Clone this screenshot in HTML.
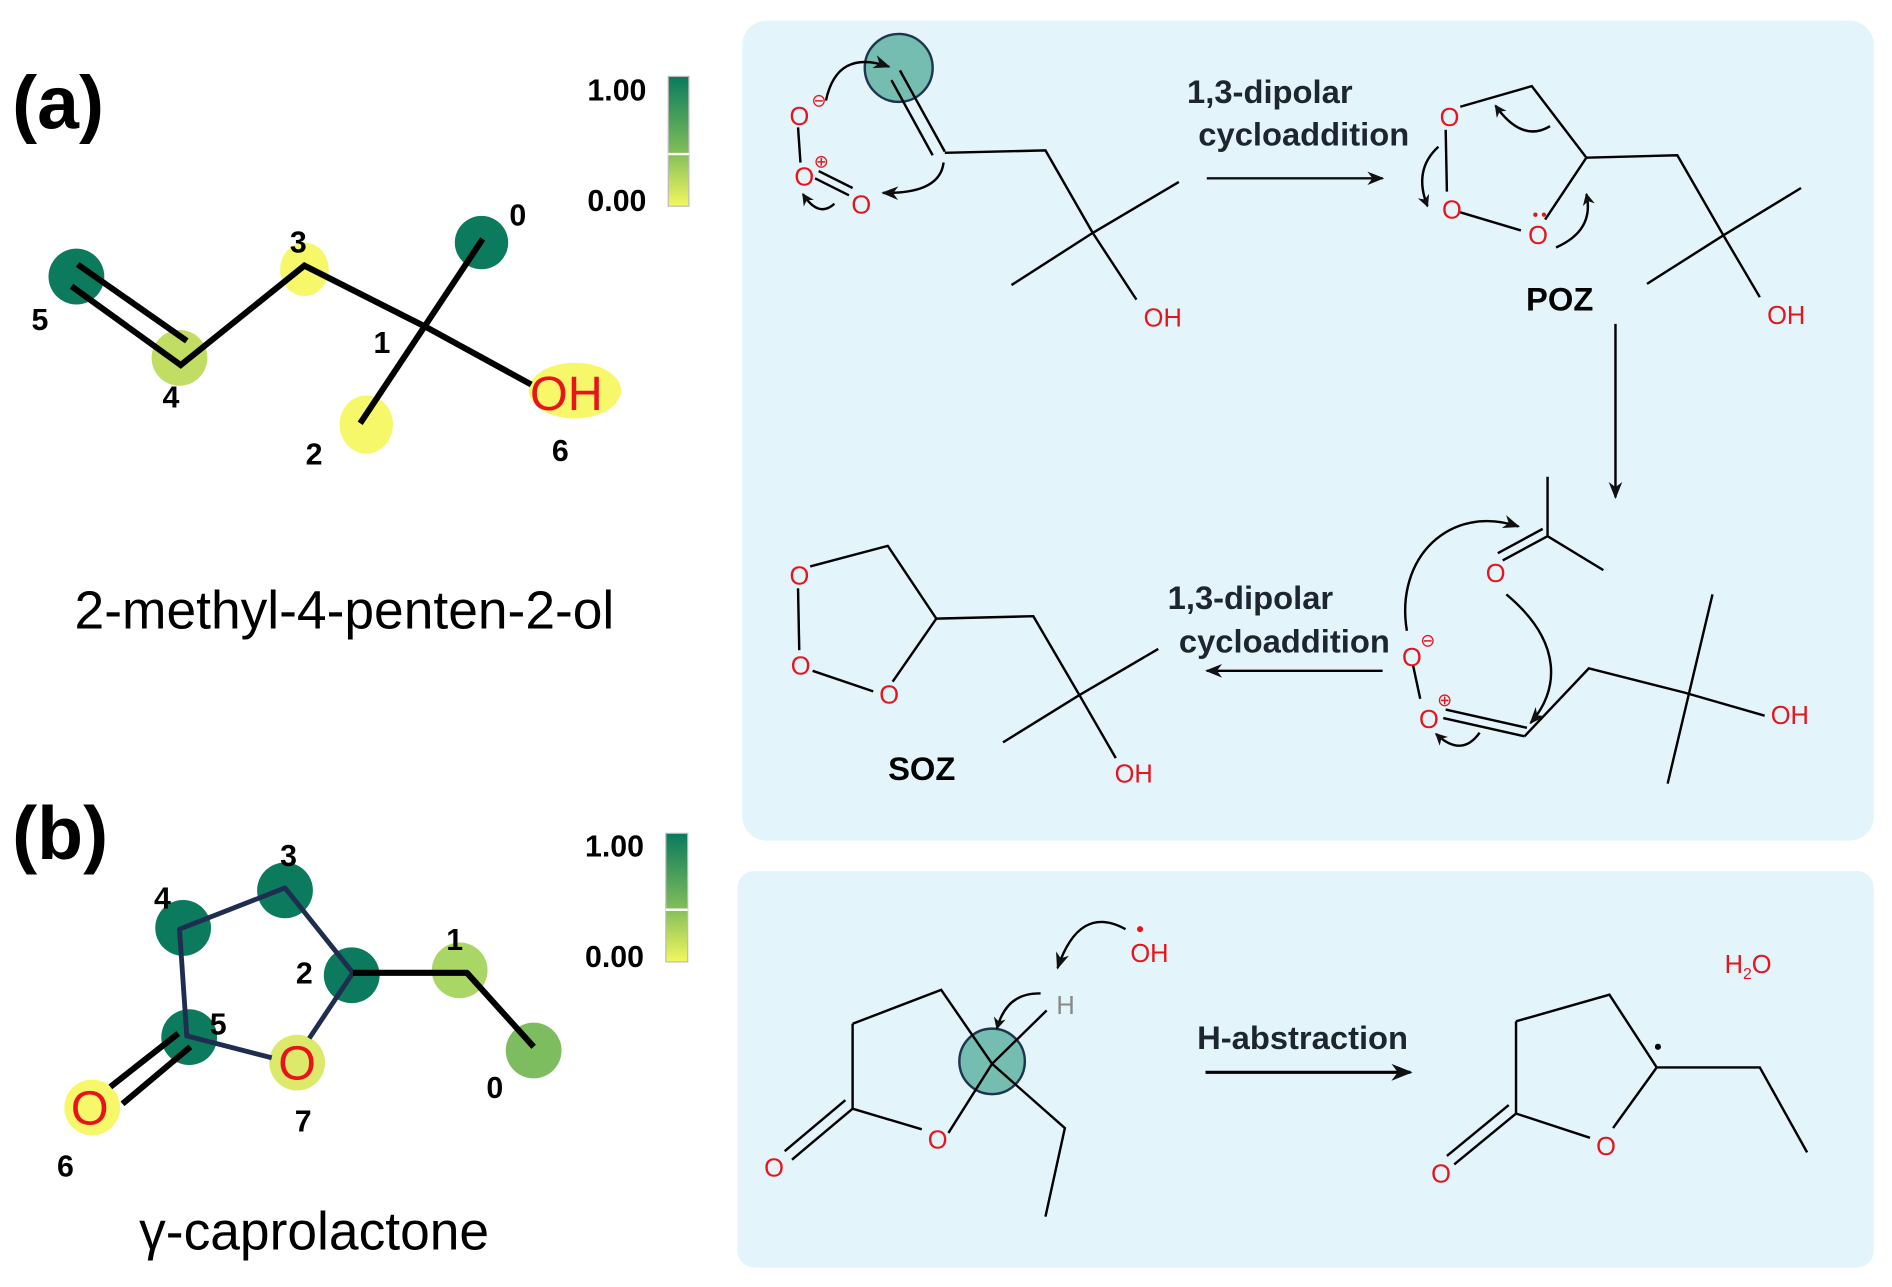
<!DOCTYPE html>
<html><head><meta charset="utf-8"><style>
html,body{margin:0;padding:0;background:#fff;}
svg{display:block;}
text{font-family:"Liberation Sans",sans-serif;}
.b{font-weight:bold;}
.n{font-family:"Liberation Sans Narrow","Liberation Sans",sans-serif;font-weight:bold;}
.r{fill:#e8141c;font-size:21px;}
</style></head><body>
<svg width="1892" height="1287" viewBox="0 0 1560 1061" preserveAspectRatio="none" xmlns="http://www.w3.org/2000/svg">
<defs>
<linearGradient id="cb" x1="0" y1="0" x2="0" y2="1">
<stop offset="0" stop-color="#0a7a5c"/><stop offset="0.55" stop-color="#79b95a"/><stop offset="1" stop-color="#f3f75e"/>
</linearGradient>
<marker id="ah" viewBox="0 0 10 10" refX="9" refY="5" markerWidth="7" markerHeight="7" orient="auto-start-reverse"><path d="M0,1 L10,5 L0,9 L3,5z" fill="#111"/></marker>
<marker id="ahs" viewBox="0 0 10 10" refX="9" refY="5" markerWidth="5" markerHeight="5" orient="auto"><path d="M0,0 L10,5 L0,10 L3,5z" fill="#111"/></marker>
</defs>
<rect width="1560" height="1061" fill="#fff"/>
<rect x="612" y="17" width="933" height="676" rx="20" fill="#e3f4fb"/>
<rect x="608" y="718" width="937" height="327" rx="14" fill="#e3f4fb"/>

<!-- (a) -->
<text x="10" y="106" class="b" font-size="62">(a)</text>
<rect x="551" y="63" width="17" height="107" fill="url(#cb)" stroke="#bbb" stroke-width="1"/>
<line x1="551" y1="127" x2="568" y2="127" stroke="#fff" stroke-width="2"/>
<text x="533" y="83" text-anchor="end" class="n" font-size="25">1.00</text>
<text x="533" y="174" text-anchor="end" class="n" font-size="25">0.00</text>
<ellipse cx="63" cy="228" rx="23" ry="23" fill="#0b7a5d"/>
<ellipse cx="148" cy="295" rx="23" ry="23" fill="#c1dd64"/>
<ellipse cx="251" cy="222" rx="20" ry="22" fill="#f7f76a"/>
<ellipse cx="397" cy="200" rx="22" ry="22" fill="#0b7a5d"/>
<ellipse cx="302" cy="350" rx="22" ry="24" fill="#f7f76a"/>
<ellipse cx="474" cy="322" rx="38" ry="23" fill="#f7f76a"/>
<g stroke="#000" stroke-width="5" fill="none" stroke-linecap="butt" stroke-linejoin="miter">
<line x1="64" y1="218" x2="154" y2="281"/>
<polyline points="59,236 149,301 251,219 352,270"/>
<line x1="398" y1="197" x2="297" y2="349"/>
<line x1="352" y1="270" x2="438" y2="317"/>
</g>
<text x="437" y="338" fill="#e8141c" font-size="40">OH</text>
<g class="n" font-size="25">
<text x="26" y="272">5</text><text x="134" y="336">4</text><text x="239" y="208">3</text>
<text x="308" y="291">1</text><text x="420" y="186">0</text><text x="252" y="383">2</text><text x="455" y="380">6</text>
</g>
<text x="284" y="518" text-anchor="middle" font-size="44">2-methyl-4-penten-2-ol</text>

<!-- (b) -->
<text x="10" y="708" class="b" font-size="62">(b)</text>
<rect x="549" y="687" width="18" height="106" fill="url(#cb)" stroke="#bbb" stroke-width="1"/>
<line x1="549" y1="750" x2="567" y2="750" stroke="#fff" stroke-width="2"/>
<text x="531" y="706" text-anchor="end" class="n" font-size="25">1.00</text>
<text x="531" y="797" text-anchor="end" class="n" font-size="25">0.00</text>
<circle cx="235" cy="734" r="23" fill="#0b7a5d"/>
<circle cx="151" cy="765" r="23" fill="#0b7a5d"/>
<circle cx="290" cy="804" r="23" fill="#0b7a5d"/>
<circle cx="156" cy="855" r="23" fill="#0b7a5d"/>
<circle cx="245" cy="876" r="23" fill="#dde96a"/>
<circle cx="76" cy="913" r="23" fill="#f7f76a"/>
<circle cx="379" cy="800" r="23" fill="#aad665"/>
<circle cx="440" cy="866" r="23" fill="#7dbd60"/>
<g stroke="#1e2d50" stroke-width="4" fill="none" stroke-linejoin="round">
<polyline points="255,856 291,802 235,732 148,766 154,854 224,872"/>
</g>
<g stroke="#000" stroke-width="5" fill="none" stroke-linejoin="round">
<polyline points="291,802 385,802 440,863"/>
<line x1="147" y1="852" x2="91" y2="896"/>
<line x1="157" y1="863" x2="101" y2="910"/>
</g>
<text x="245" y="890" text-anchor="middle" fill="#e8141c" font-size="40">O</text>
<text x="74" y="927" text-anchor="middle" fill="#e8141c" font-size="40">O</text>
<g class="n" font-size="25">
<text x="231" y="714">3</text><text x="127" y="749">4</text><text x="244" y="811">2</text>
<text x="173" y="853">5</text><text x="243" y="933">7</text><text x="47" y="970">6</text>
<text x="368" y="783">1</text><text x="401" y="905">0</text>
</g>
<text x="259" y="1030" text-anchor="middle" font-size="44">γ-caprolactone</text>

<!-- top panel: reactant -->
<circle cx="741" cy="56" r="28" fill="#74bdb0" stroke="#1e3550" stroke-width="2"/>
<g stroke="#000" stroke-width="2" fill="none">
<line x1="742" y1="58" x2="779" y2="125"/>
<line x1="735" y1="66" x2="769" y2="128"/>
<polyline points="779,126 862,124 901,192 972,150"/>
<line x1="901" y1="192" x2="834" y2="235"/>
<line x1="901" y1="192" x2="937" y2="247"/>
<line x1="658" y1="105" x2="660" y2="134"/>
<line x1="672" y1="147" x2="700" y2="161"/>
<line x1="675" y1="141" x2="703" y2="155"/>
<path d="M681,83 Q690,40 733,55" marker-end="url(#ah)"/>
<path d="M778,134 Q775,160 728,159" marker-end="url(#ah)"/>
<path d="M688,168 Q675,180 662,160" marker-end="url(#ahs)"/>
</g>
<g class="r">
<text x="651" y="103">O</text><text x="655" y="153">O</text><text x="702" y="176">O</text>
<text x="943" y="269">OH</text>
</g>
<text x="669" y="88" font-size="15" fill="#e8141c">⊖</text>
<text x="671" y="138" font-size="15" fill="#e8141c">⊕</text>
<line x1="995" y1="147" x2="1140" y2="147" stroke="#111" stroke-width="2" marker-end="url(#ah)"/>
<text x="1047" y="85" text-anchor="middle" class="b" font-size="27" fill="#1d2530">1,3-dipolar</text>
<text x="1075" y="120" text-anchor="middle" class="b" font-size="27" fill="#1d2530">cycloaddition</text>
<!-- POZ -->
<g stroke="#000" stroke-width="2" fill="none">
<polyline points="1204,88 1263,71 1308,130 1274,181"/>
<line x1="1192" y1="107" x2="1193" y2="158"/>
<line x1="1204" y1="175" x2="1254" y2="190"/>
<polyline points="1308,130 1383,128 1421,194 1485,155"/>
<line x1="1421" y1="194" x2="1358" y2="234"/>
<line x1="1421" y1="194" x2="1451" y2="245"/>
<path d="M1278,104 Q1255,118 1233,87" marker-end="url(#ahs)"/>
<path d="M1186,121 Q1165,140 1177,170" marker-end="url(#ahs)"/>
<path d="M1283,204 Q1315,190 1308,160" marker-end="url(#ahs)"/>
<line x1="1332" y1="267" x2="1332" y2="410" marker-end="url(#ah)"/>
</g>
<g class="r">
<text x="1187" y="104">O</text><text x="1189" y="180">O</text><text x="1260" y="201">O</text>
<text x="1457" y="267">OH</text>
</g>
<circle cx="1266" cy="177" r="1.8" fill="#e8141c"/><circle cx="1273" cy="177" r="1.8" fill="#e8141c"/>
<text x="1286" y="256" text-anchor="middle" class="b" font-size="27">POZ</text>
<!-- carbonyl oxide + acetone -->
<g stroke="#000" stroke-width="2" fill="none">
<polyline points="1276,393 1276,442 1322,470"/>
<line x1="1276" y1="442" x2="1239" y2="462"/>
<line x1="1272" y1="436" x2="1235" y2="456"/>
<line x1="1165" y1="548" x2="1171" y2="576"/>
<line x1="1190" y1="592" x2="1257" y2="607"/>
<line x1="1192" y1="585" x2="1259" y2="600"/>
<polyline points="1257,607 1310,551 1389,571 1455,590"/>
<line x1="1412" y1="490" x2="1375" y2="646"/>
<path d="M1160,520 C1150,460 1195,415 1252,434" marker-end="url(#ah)"/>
<path d="M1242,490 C1290,530 1285,570 1262,596" marker-end="url(#ah)"/>
<path d="M1220,604 Q1205,625 1184,605" marker-end="url(#ahs)"/>
<line x1="1140" y1="553" x2="995" y2="553" marker-end="url(#ah)"/>
</g>
<g class="r">
<text x="1225" y="480">O</text><text x="1156" y="549">O</text><text x="1170" y="600">O</text>
<text x="1460" y="597">OH</text>
</g>
<text x="1171" y="533" font-size="15" fill="#e8141c">⊖</text>
<text x="1185" y="582" font-size="15" fill="#e8141c">⊕</text>
<text x="1031" y="502" text-anchor="middle" class="b" font-size="27" fill="#1d2530">1,3-dipolar</text>
<text x="1059" y="538" text-anchor="middle" class="b" font-size="27" fill="#1d2530">cycloaddition</text>
<!-- SOZ -->
<g stroke="#000" stroke-width="2" fill="none">
<polyline points="668,467 732,450 772,510 736,562"/>
<line x1="658" y1="485" x2="659" y2="536"/>
<line x1="670" y1="553" x2="720" y2="570"/>
<polyline points="772,510 852,508 890,573 955,535"/>
<line x1="890" y1="573" x2="827" y2="612"/>
<line x1="890" y1="573" x2="920" y2="625"/>
</g>
<g class="r">
<text x="651" y="482">O</text><text x="652" y="556">O</text><text x="725" y="580">O</text>
<text x="919" y="645">OH</text>
</g>
<text x="760" y="643" text-anchor="middle" class="b" font-size="27">SOZ</text>

<!-- bottom panel -->
<circle cx="818" cy="875" r="27" fill="#74bdb0" stroke="#1e3550" stroke-width="2"/>
<g stroke="#000" stroke-width="2" fill="none">
<polyline points="703,844 703,914 760,931"/>
<polyline points="703,844 776,816 818,877 782,934"/>
<line x1="703" y1="914" x2="653" y2="956"/>
<line x1="697" y1="907" x2="647" y2="949"/>
<line x1="818" y1="877" x2="863" y2="833"/>
<polyline points="818,877 878,930 862,1003"/>
<path d="M928,766 Q890,745 872,798" marker-end="url(#ah)"/>
<path d="M858,819 Q830,818 822,848" marker-end="url(#ahs)"/>
<line x1="994" y1="884" x2="1163" y2="884" stroke-width="2.5" marker-end="url(#ah)"/>
<polyline points="1250,842 1327,820 1366,880 1330,930"/>
<polyline points="1250,842 1250,918 1311,938"/>
<line x1="1250" y1="918" x2="1199" y2="960"/>
<line x1="1244" y1="911" x2="1193" y2="953"/>
<polyline points="1366,880 1451,880 1490,950"/>
</g>
<text x="871" y="836" fill="#888" font-size="21">H</text>
<text x="932" y="793" class="r">OH</text>
<circle cx="940" cy="766" r="2.5" fill="#e8141c"/>
<text x="630" y="970" class="r">O</text><text x="765" y="947" class="r">O</text>
<text x="1180" y="975" class="r">O</text><text x="1316" y="952" class="r">O</text>
<circle cx="1367" cy="863" r="2.5" fill="#000"/>
<text x="1422" y="802" fill="#e8141c" font-size="21">H<tspan font-size="13" dy="5">2</tspan><tspan dy="-5">O</tspan></text>
<text x="1074" y="865" text-anchor="middle" class="b" font-size="27" fill="#1d2530">H-abstraction</text>
</svg>
</body></html>
